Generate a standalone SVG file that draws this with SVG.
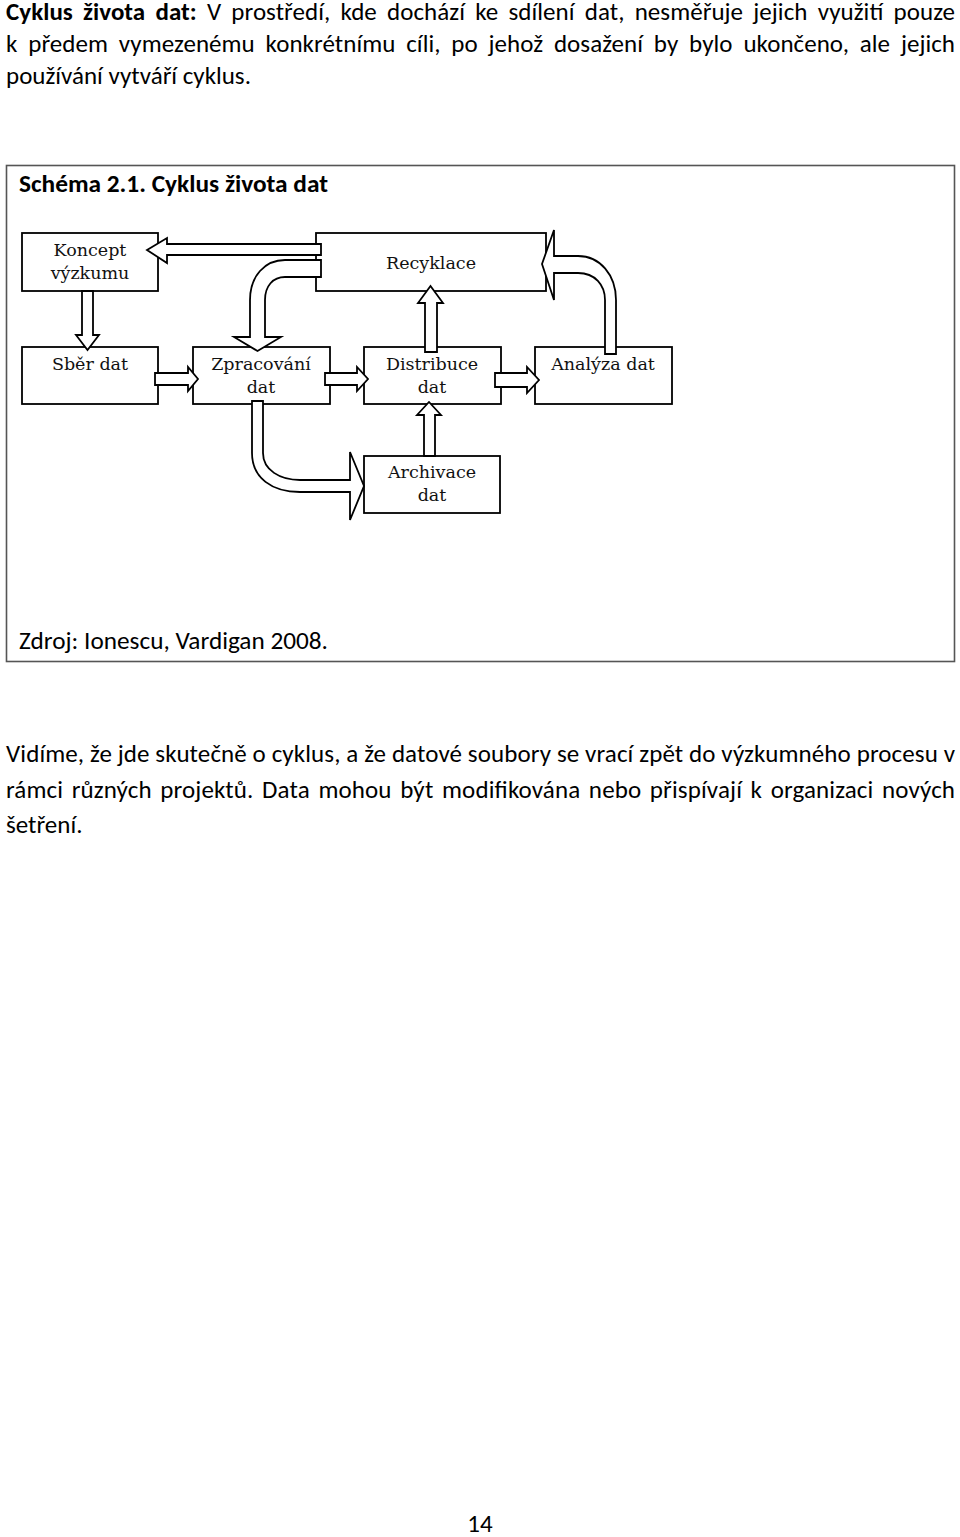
<svg xmlns="http://www.w3.org/2000/svg" width="960" height="1537" viewBox="0 0 960 1537">
<style>
.body{font-family:Carlito,Lato,"Liberation Sans",sans-serif;font-size:25px;fill:#000}
.b{font-weight:bold}
.box{fill:#fff;stroke:#000;stroke-width:1.8}
.lbl{font-family:"DejaVu Serif","Liberation Serif",serif;font-size:17.5px;fill:#111;text-anchor:middle}
.arr{fill:#fff;stroke:#000;stroke-width:1.8;stroke-linejoin:miter}
</style>
<rect width="960" height="1537" fill="#fff"/>
<g id="intro">
<text class="body" x="6" y="20" word-spacing="4.5" textLength="949" lengthAdjust="spacing"><tspan class="b">Cyklus života dat:</tspan> V prostředí, kde dochází ke sdílení dat, nesměřuje jejich využití pouze</text>
<text class="body" x="6" y="52" word-spacing="5.1" textLength="949" lengthAdjust="spacing">k předem vymezenému konkrétnímu cíli, po jehož dosažení by bylo ukončeno, ale jejich</text>
<text class="body" x="6" y="84">používání vytváří cyklus.</text>
</g>
<g id="frame">
<rect x="6.5" y="165.5" width="948" height="496" fill="none" stroke="#555" stroke-width="1.6"/>
<text class="body b" x="19" y="192" textLength="309" lengthAdjust="spacingAndGlyphs">Schéma 2.1. Cyklus života dat</text>
<text class="body" x="19" y="649" textLength="309" lengthAdjust="spacingAndGlyphs">Zdroj: Ionescu, Vardigan 2008.</text>
</g>
<g id="koncept"><rect class="box" x="22" y="233" width="136" height="58"/><text class="lbl" x="90" y="256">Koncept</text><text class="lbl" x="90" y="279">výzkumu</text></g>
<g id="recyklace"><rect class="box" x="316" y="233" width="230" height="58"/><text class="lbl" x="431" y="269">Recyklace</text></g>
<g id="sber"><rect class="box" x="22" y="347" width="136" height="57"/><text class="lbl" x="90" y="370">Sběr dat</text></g>
<g id="zpracovani"><rect class="box" x="193" y="347" width="137" height="57"/><text class="lbl" x="261" y="370">Zpracování</text><text class="lbl" x="261" y="393">dat</text></g>
<g id="distribuce"><rect class="box" x="364" y="347" width="137" height="57"/><text class="lbl" x="432" y="370">Distribuce</text><text class="lbl" x="432" y="393">dat</text></g>
<g id="analyza"><rect class="box" x="535" y="347" width="137" height="57"/><text class="lbl" x="603" y="370">Analýza dat</text></g>
<g id="archivace"><rect class="box" x="364" y="456" width="136" height="57"/><text class="lbl" x="432" y="478">Archivace</text><text class="lbl" x="432" y="501">dat</text></g>
<g id="connectors">
<path class="arr" d="M147,250 L167,238 V244 H321 V255 H167 V263 Z"/>
<path class="arr" d="M82,291 H93 V335 H99 L87.5,350 L76,335 H82 Z"/>
<path class="arr" d="M321,260 H285 C265,260 250,276 250,300 V337 H234 L257.5,351 L281,337 H265 V300 C265,286 273,277 285,277 H321 Z"/>
<path class="arr" d="M155,373 H188 V367 L198,379 L188,391 V385 H155 Z"/>
<path class="arr" d="M325,373 H357 V367 L368,379 L357,391 V385 H325 Z"/>
<path class="arr" d="M495,373 H527 V367 L539,380 L527,393 V387 H495 Z"/>
<path class="arr" d="M425,352 V303 H418 L430.5,286 L443,303 H437 V352 Z"/>
<path class="arr" d="M605,354 V300 C605,285 595,273 578,273 H554 V300 L542,264 L554,230 V256 H578 C600,256 616,275 616,300 V354 Z"/>
<path class="arr" d="M252,401 V453 C252,478 272,492 300,492 H350 V520 L364,486 L350,452 V480 H300 C280,480 263,470 263,453 V401 Z"/>
<path class="arr" d="M424,456 V415 H417 L429,402 L441,415 H435 V456 Z"/>
</g>
<g id="outro">
<text class="body" x="6" y="762" textLength="949" lengthAdjust="spacing">Vidíme, že jde skutečně o cyklus, a že datové soubory se vrací zpět do výzkumného procesu v</text>
<text class="body" x="6" y="798" word-spacing="2.8" textLength="949" lengthAdjust="spacing">rámci různých projektů. Data mohou být modifikována nebo přispívají k organizaci nových</text>
<text class="body" x="6" y="833">šetření.</text>
<text class="body" x="480" y="1532" font-size="22" text-anchor="middle">14</text>
</g>
</svg>
